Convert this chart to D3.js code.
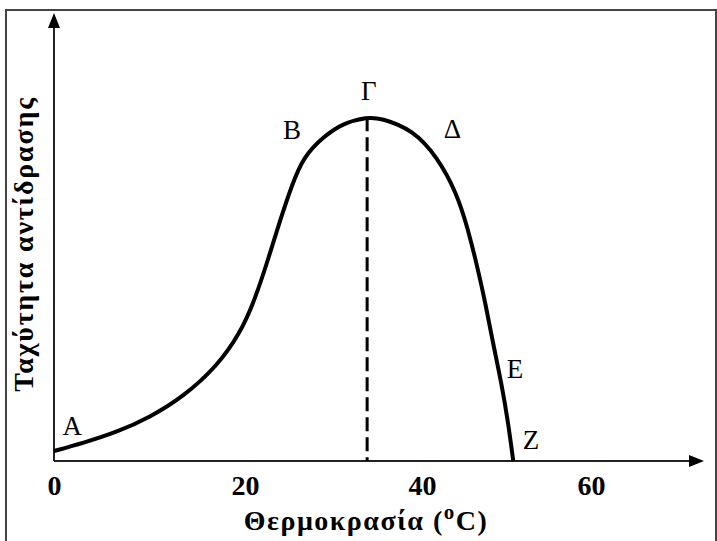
<!DOCTYPE html>
<html>
<head>
<meta charset="utf-8">
<script src="https://cdn.jsdelivr.net/npm/d3@7"></script>
<style>
  body { margin: 0; background: #fff; }
  svg text { font-family: "Liberation Serif", "Times New Roman", serif; fill: #000; }
</style>
</head>
<body>
<svg id="chart" width="717" height="541"></svg>
<script>
'use strict';

// temperature (°C) and reaction rate (peak = 100)
const temps = [0, 3.0, 6.6, 10.1, 13.5, 17.1, 19.5, 21.1, 22.6, 23.9, 25.3, 26.6, 28.8, 31.1, 33.8,
               35.3, 39.0, 41.8, 44.1, 45.4, 46.5, 47.5, 48.4, 49.4, 50.2, 50.8];
const rates = [2.9, 5.2, 8.4, 12.8, 18.6, 27.6, 37.2, 46.8, 58.5, 69.5, 80.3, 88.4, 94.2, 98.3, 100,
               99.8, 96.3, 88.4, 78.0, 67.8, 57.0, 46.0, 34.3, 22.7, 11.1, 0];

const tickTemps = [0, 20, 40, 60];
const peakTemp = 33.8;

const pointLabels = ['A', 'B', 'Γ', 'Δ', 'E', 'Z'];
const labelTemps = [1.9, 25.3, 34.0, 43.6, 51.0, 52.9];
const labelRates = [10.2, 96.3, 107.6, 96.6, 26.8, 6.1];

const xTitle = 'Θερμοκρασία (';
const xTitleSup = 'o';
const xTitleEnd = 'C)';
const yTitle = 'Ταχύτητα αντίδρασης';

const svg = d3.select('#chart');

// hand drawn axis: tick labels are not evenly spaced, so use a polylinear scale
const x = d3.scaleLinear()
    .domain(tickTemps)
    .range([54, 245, 422, 591]);

const y = d3.scaleLinear()
    .domain([0, 130])
    .range([461, 14]);

// frame
svg.append('rect')
    .attr('x', 6).attr('y', 10)
    .attr('width', 710).attr('height', 545)
    .attr('fill', 'none')
    .attr('stroke', '#444')
    .attr('stroke-width', 2);

// axes lines with arrows
const x0 = x(0), y0 = y(0);
const xEnd = 704, yTop = 13;

svg.append('line')
    .attr('x1', x0).attr('y1', y0)
    .attr('x2', xEnd - 8).attr('y2', y0)
    .attr('stroke', '#222').attr('stroke-width', 2);

svg.append('line')
    .attr('x1', x0).attr('y1', y0)
    .attr('x2', x0).attr('y2', yTop + 8)
    .attr('stroke', '#222').attr('stroke-width', 2);

svg.append('path')
    .attr('d', `M${xEnd},${y0} L${xEnd - 15},${y0 - 6} L${xEnd - 15},${y0 + 6} Z`)
    .attr('fill', '#000');

svg.append('path')
    .attr('d', `M${x0},${yTop} L${x0 - 6},${yTop + 15} L${x0 + 6},${yTop + 15} Z`)
    .attr('fill', '#000');

// tick labels
const xAxis = d3.axisBottom(x)
    .tickValues(tickTemps)
    .tickSize(0)
    .tickPadding(14)
    .tickFormat(d3.format('d'));

const gx = svg.append('g')
    .attr('transform', `translate(0,${y0})`)
    .call(xAxis);
gx.select('.domain').remove();
gx.selectAll('text')
    .attr('font-family', '"Liberation Serif", serif')
    .attr('font-size', 28)
    .attr('font-weight', 'bold')
    .attr('fill', '#000');

// dashed line at the optimum
svg.append('line')
    .attr('x1', x(peakTemp)).attr('y1', y(100))
    .attr('x2', x(peakTemp)).attr('y2', y0)
    .attr('stroke', '#000')
    .attr('stroke-width', 3)
    .attr('stroke-dasharray', '14,6');

// curve
const data = temps.map((t, i) => ({t: t, r: rates[i]}));
const line = d3.line()
    .x(d => x(d.t))
    .y(d => y(d.r))
    .curve(d3.curveBasis);

svg.append('path')
    .datum(data)
    .attr('d', line)
    .attr('fill', 'none')
    .attr('stroke', '#000')
    .attr('stroke-width', 4)
    .attr('stroke-linejoin', 'round');

// point letters
svg.selectAll('.pt-label')
    .data(pointLabels)
    .enter()
    .append('text')
    .attr('class', 'pt-label')
    .attr('x', (d, i) => x(labelTemps[i]))
    .attr('y', (d, i) => y(labelRates[i]))
    .attr('dy', '0.35em')
    .attr('text-anchor', 'middle')
    .attr('font-size', 27)
    .text(d => d);

// axis titles
const xt = svg.append('text')
    .attr('x', 366)
    .attr('y', 530)
    .attr('text-anchor', 'middle')
    .attr('font-size', 28)
    .attr('letter-spacing', 1.5)
    .attr('font-weight', 'bold');
xt.append('tspan').text(xTitle);
xt.append('tspan').attr('dy', -11).attr('font-size', 21).text(xTitleSup);
xt.append('tspan').attr('dy', 11).text(xTitleEnd);

svg.append('text')
    .attr('transform', 'translate(33,244) rotate(-90)')
    .attr('text-anchor', 'middle')
    .attr('font-size', 28)
    .attr('letter-spacing', 1.8)
    .attr('font-weight', 'bold')
    .text(yTitle);
</script>
</body>
</html>
